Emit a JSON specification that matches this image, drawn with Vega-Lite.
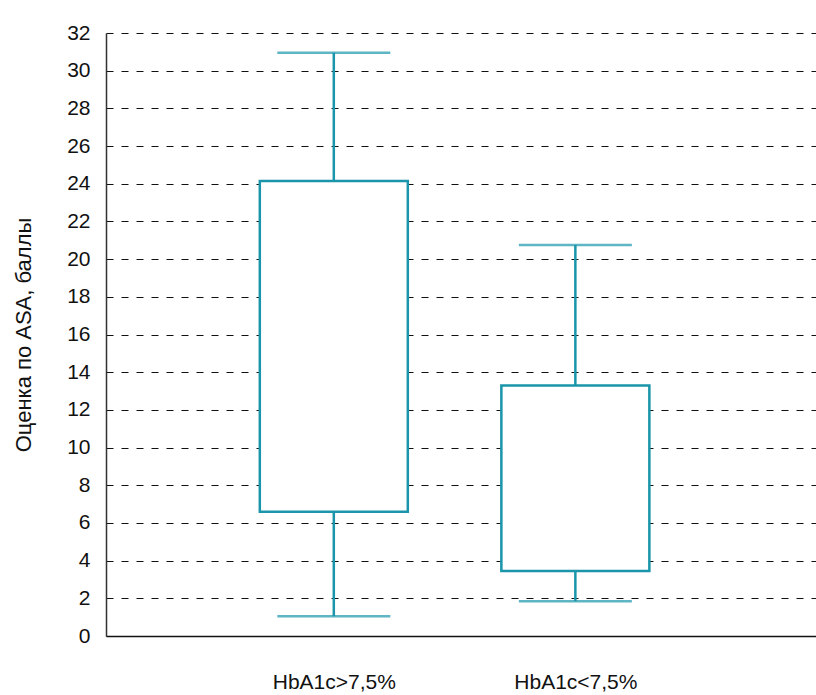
{
  "$schema": "https://vega.github.io/schema/vega-lite/v6.json",
  "autosize": {"type": "none"},
  "width": 710,
  "height": 603,
  "padding": {"left": 106, "top": 33, "right": 0, "bottom": 59},
  "background": "white",
  "config": {
    "view": {"stroke": null},
    "font": "Liberation Sans",
    "axisY": {
      "tickCount": 16,
      "labelOverlap": false,
      "labelFontSize": 21,
      "labelColor": "#111",
      "labelPadding": 16,
      "ticks": false,
      "domainColor": "#333",
      "domainWidth": 1.5,
      "grid": true,
      "gridColor": "#111",
      "gridDash": [7, 8],
      "gridWidth": 1.2,
      "titleFontSize": 22,
      "titleFontWeight": "normal",
      "titleColor": "#111",
      "titlePadding": 31
    }
  },
  "data": {
    "values": [
      {"group": "HbA1c>7,5%", "idx": 1, "low": 1.05, "q1": 6.6, "q3": 24.15, "high": 30.95},
      {"group": "HbA1c<7,5%", "idx": 2, "low": 1.85, "q1": 3.45, "q3": 13.3, "high": 20.75}
    ]
  },
  "encoding": {
    "x": {
      "field": "idx",
      "type": "quantitative",
      "scale": {"domain": [0.0776, 2.9755], "nice": false, "zero": false},
      "axis": {
        "title": null,
        "values": [1, 2],
        "labelExpr": "datum.value == 1 ? 'HbA1c>7,5%' : 'HbA1c<7,5%'",
        "domain": true,
        "domainColor": "#111",
        "domainWidth": 1.5,
        "grid": false,
        "ticks": false,
        "labelAngle": 0,
        "labelFontSize": 21,
        "labelColor": "#111",
        "labelPadding": 35,
        "labelFont": "Liberation Sans"
      }
    }
  },
  "layer": [
    {
      "mark": {"type": "rule", "color": "#1a95a9", "strokeWidth": 2.5},
      "encoding": {
        "y": {
          "field": "low",
          "type": "quantitative",
          "scale": {"domain": [0, 32], "nice": false},
          "title": "Оценка по ASA, баллы"
        },
        "y2": {"field": "high"}
      }
    },
    {
      "mark": {"type": "bar", "fill": "white", "stroke": "#1a95a9", "strokeWidth": 2.5, "size": 148},
      "encoding": {
        "y": {"field": "q1", "type": "quantitative", "title": "Оценка по ASA, баллы"},
        "y2": {"field": "q3"}
      }
    },
    {
      "mark": {"type": "tick", "color": "#1a95a9", "size": 113, "thickness": 2.5, "orient": "horizontal"},
      "encoding": {"y": {"field": "low", "type": "quantitative", "title": "Оценка по ASA, баллы"}}
    },
    {
      "mark": {"type": "tick", "color": "#1a95a9", "size": 113, "thickness": 2.5, "orient": "horizontal"},
      "encoding": {"y": {"field": "high", "type": "quantitative", "title": "Оценка по ASA, баллы"}}
    }
  ]
}
